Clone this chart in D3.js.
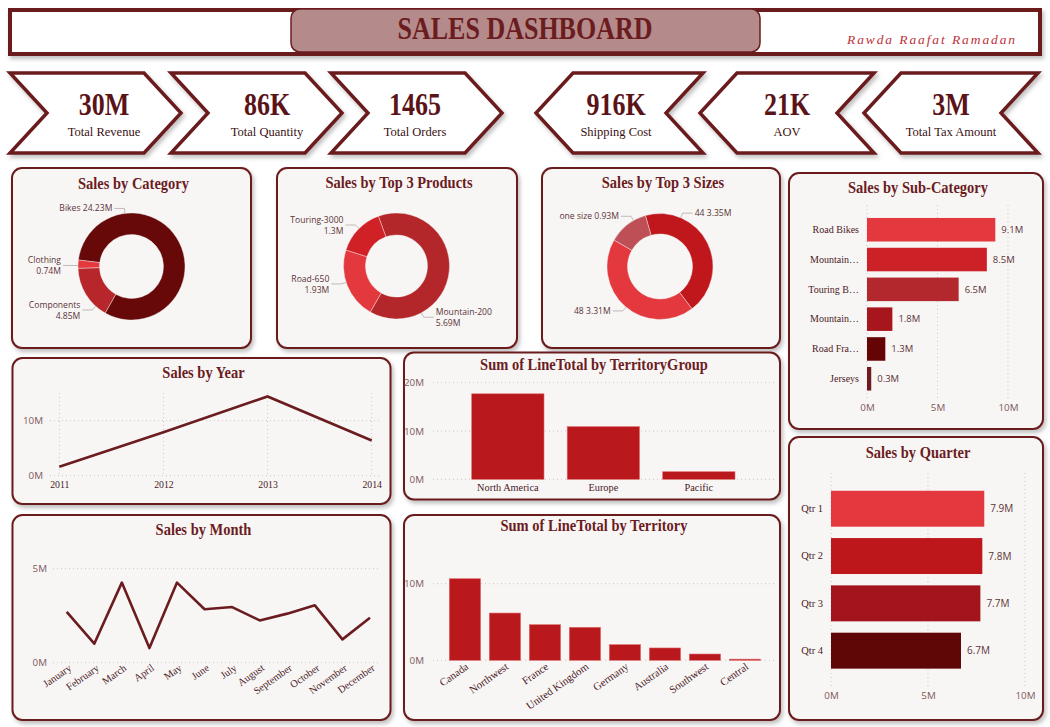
<!DOCTYPE html>
<meta charset="utf-8">
<script src="https://d3js.org/d3.v7.min.js"></script>
<style>
  body { margin: 0; background: #fff; }
  text { font-family: "Liberation Serif", "Times New Roman", serif; }
  .sans { font-family: "Segoe UI", "Open Sans", "Noto Sans", sans-serif; }
</style>
<div id="dash"></div>
<script>

// ---- data (values in millions unless noted) ----
var kpiValues = ["30M", "86K", "1465", "916K", "21K", "3M"];
var kpiLabels = ["Total Revenue", "Total Quantity", "Total Orders", "Shipping Cost", "AOV", "Total Tax Amount"];

var categoryNames = ["Bikes", "Components", "Clothing"];
var categorySales = [24.23, 4.85, 0.74];

var productNames = ["Mountain-200", "Road-650", "Touring-3000"];
var productSales = [5.69, 1.93, 1.3];

var sizeNames = ["44", "48", "one size"];
var sizeSales = [3.35, 3.31, 0.93];

var subCategories = ["Road Bikes", "Mountain Bikes", "Touring Bikes", "Mountain Frames", "Road Frames", "Jerseys"];
var subCategorySales = [9.1, 8.5, 6.5, 1.8, 1.3, 0.3];

var years = ["2011", "2012", "2013", "2014"];
var yearSales = [1.64, 7.9, 14.4, 6.4];

var territoryGroups = ["North America", "Europe", "Pacific"];
var territoryGroupSales = [17.7, 10.9, 1.57];

var months = ["January", "February", "March", "April", "May", "June", "July",
              "August", "September", "October", "November", "December"];
var monthSales = [2.70, 1.01, 4.26, 0.78, 4.26, 2.84, 2.96, 2.25, 2.61, 3.05, 1.24, 2.39];

var territories = ["Canada", "Northwest", "France", "United Kingdom", "Germany", "Australia", "Southwest", "Central"];
var territorySales = [10.65, 6.17, 4.65, 4.31, 2.04, 1.61, 0.82, 0.15];

var quarters = ["Qtr 1", "Qtr 2", "Qtr 3", "Qtr 4"];
var quarterSales = [7.9, 7.8, 7.7, 6.7];

// ---- page ----
var dark = "#6b1c1f",
    panelFill = "#f8f6f5",
    tickColor = "#7d5a5c",
    labelColor = "#4a1a1f";

var svg = d3.select("#dash").append("svg")
    .attr("width", 1050)
    .attr("height", 727);

var shadow = svg.append("defs").append("filter")
    .attr("id", "shadow")
    .attr("x", "-5%").attr("y", "-10%")
    .attr("width", "115%").attr("height", "130%");
shadow.append("feDropShadow")
    .attr("dx", 2).attr("dy", 3)
    .attr("stdDeviation", 2)
    .attr("flood-color", "#000")
    .attr("flood-opacity", 0.25);

// serif text stretched a bit vertically, like the original export
function tallText(x, y, txt, size, weight, color) {
  return svg.append("text")
      .attr("transform", "translate(" + x + "," + y + ") scale(1,1.18)")
      .attr("text-anchor", "middle")
      .attr("font-size", size)
      .attr("font-weight", weight)
      .attr("fill", color)
      .text(txt);
}

function panel(x, y, w, h, title, ty) {
  svg.append("rect")
      .attr("x", x).attr("y", y)
      .attr("width", w).attr("height", h)
      .attr("rx", 10)
      .attr("fill", panelFill)
      .attr("stroke", dark)
      .attr("stroke-width", 2)
      .attr("filter", "url(#shadow)");
  tallText(x + w / 2 + 2, y + ty, title, 14.5, "bold", dark);
}

// ---- header ----
svg.append("rect")
    .attr("x", 10).attr("y", 10)
    .attr("width", 1030).attr("height", 44)
    .attr("fill", "#fff")
    .attr("stroke", dark)
    .attr("stroke-width", 4)
    .attr("filter", "url(#shadow)");
svg.append("rect")
    .attr("x", 291).attr("y", 9)
    .attr("width", 469).attr("height", 43)
    .attr("rx", 9)
    .attr("fill", "#b58a8a")
    .attr("stroke", dark)
    .attr("stroke-width", 1.5);
tallText(525, 39, "SALES DASHBOARD", 26, "bold", dark);
svg.append("text")
    .attr("x", 1017).attr("y", 44)
    .attr("text-anchor", "end")
    .attr("font-size", 13.5)
    .attr("font-style", "italic")
    .attr("letter-spacing", 1.9)
    .attr("fill", "#c0303a")
    .text("Rawda Raafat Ramadan");

// ---- KPI chevrons ----
var chevrons = [
  {left: 10,  right: 144,  dir: 1,  cx: 104},
  {left: 171, right: 305,  dir: 1,  cx: 267},
  {left: 331, right: 465,  dir: 1,  cx: 415},
  {left: 573, right: 703,  dir: -1, cx: 616},
  {left: 737, right: 874,  dir: -1, cx: 787},
  {left: 901, right: 1038, dir: -1, cx: 951}
];
var chevTop = 73, chevBot = 153, chevMid = 113, chevDepth = 37;

chevrons.forEach(function(c, i) {
  var pts;
  if (c.dir > 0) {
    pts = [[c.left, chevTop], [c.right, chevTop], [c.right + chevDepth, chevMid],
           [c.right, chevBot], [c.left, chevBot], [c.left + chevDepth, chevMid]];
  } else {
    pts = [[c.left, chevTop], [c.right, chevTop], [c.right - chevDepth, chevMid],
           [c.right, chevBot], [c.left, chevBot], [c.left - chevDepth, chevMid]];
  }
  svg.append("polygon")
      .attr("points", pts.join(" "))
      .attr("fill", "#fff")
      .attr("stroke", dark)
      .attr("stroke-width", 3.5)
      .attr("filter", "url(#shadow)");
  tallText(c.cx, 115, kpiValues[i], 26, "bold", "#5a1418");
  svg.append("text")
      .attr("x", c.cx).attr("y", 135.5)
      .attr("text-anchor", "middle")
      .attr("font-size", 12.5)
      .attr("fill", "#3a1012")
      .text(kpiLabels[i]);
});

// ---- donut charts ----
var fmt2 = d3.format(".2~f"),
    fmt1 = d3.format(".1f");

function donut(cx, cy, R, r, names, values, colors, startDeg, labelDegs, twoLine) {
  var g = svg.append("g").attr("transform", "translate(" + cx + "," + cy + ")");
  var pie = d3.pie().sort(null)
      .startAngle(startDeg * Math.PI / 180)
      .endAngle((startDeg + 360) * Math.PI / 180);
  var arc = d3.arc().innerRadius(r).outerRadius(R);
  var arcs = pie(values);

  g.selectAll("path")
    .data(arcs)
    .enter().append("path")
      .attr("d", arc)
      .attr("fill", function(d, i) { return colors[i]; })
      .attr("stroke", panelFill)
      .attr("stroke-width", 0.4);

  arcs.forEach(function(d, i) {
    var a = labelDegs[i] * Math.PI / 180,
        s = Math.sin(a), c = -Math.cos(a),
        side = s < 0 ? -1 : 1;
    var p1 = [R * s, R * c],
        p2 = [(R + 5) * s, (R + 5) * c],
        p3 = [p2[0] + side * 10, p2[1]];
    g.append("polyline")
        .attr("points", [p1, p2, p3].join(" "))
        .attr("fill", "none")
        .attr("stroke", "#b3a9a9")
        .attr("stroke-width", 0.8);
    var t = g.append("text")
        .attr("class", "sans")
        .attr("font-size", 8.6)
        .attr("fill", "#5b3436")
        .attr("text-anchor", side < 0 ? "end" : "start");
    var tx = p3[0] + side * 2;
    if (twoLine[i]) {
      t.append("tspan").attr("x", tx).attr("y", p3[1] - 2.3).text(names[i]);
      t.append("tspan").attr("x", tx).attr("y", p3[1] + 8.7).text(fmt2(values[i]) + "M");
    } else {
      t.attr("x", tx).attr("y", p3[1] + 3).text(names[i] + " " + fmt2(values[i]) + "M");
    }
  });
}

panel(12, 168, 239, 180, "Sales by Category", 20.5);
donut(131.5, 266.5, 53.5, 32, categoryNames, categorySales,
      ["#670909", "#b7262a", "#e4383e"], 277, [353, 222, 271], [false, true, true]);

panel(277, 168, 240, 180, "Sales by Top 3 Products", 19.5);
donut(396.5, 266, 53, 31, productNames, productSales,
      ["#b3272a", "#e3393e", "#d02226"], 340, [152, 252, 315], [true, true, true]);

panel(542, 168, 238, 180, "Sales by Top 3 Sizes", 19.5);
donut(660, 266.5, 53, 32.5, sizeNames, sizeSales,
      ["#c0171d", "#e3393e", "#be4f56"], 344, [23, 220, 330], [false, false, false]);

// ---- helpers for the cartesian charts ----
function hGrid(scale, ticks, x0, x1) {
  svg.append("g").selectAll("line")
    .data(ticks)
    .enter().append("line")
      .attr("x1", x0).attr("x2", x1)
      .attr("y1", function(d) { return scale(d); })
      .attr("y2", function(d) { return scale(d); })
      .attr("stroke", "#cdc4c4")
      .attr("stroke-dasharray", "1,3");
}
function vGrid(positions, y0, y1) {
  svg.append("g").selectAll("line")
    .data(positions)
    .enter().append("line")
      .attr("x1", function(d) { return d; }).attr("x2", function(d) { return d; })
      .attr("y1", y0).attr("y2", y1)
      .attr("stroke", "#cdc4c4")
      .attr("stroke-dasharray", "1,3");
}
function styleAxis(g, cls, size, color) {
  g.select(".domain").remove();
  g.selectAll("text")
      .attr("class", cls)
      .attr("font-size", size)
      .attr("fill", color)
      .style("font-family", cls === "sans" ? null : "Liberation Serif, Times New Roman, serif");
}
function yValueAxis(scale, ticks, xRight) {
  var g = svg.append("g")
      .attr("transform", "translate(" + xRight + ",0)")
      .call(d3.axisLeft(scale).tickValues(ticks).tickSize(0).tickPadding(0)
            .tickFormat(function(d) { return d + "M"; }));
  styleAxis(g, "sans", 9.8, tickColor);
}
function truncate(sel, maxW) {
  sel.each(function() {
    var t = d3.select(this), full = t.text();
    if (this.getComputedTextLength() <= maxW) return;
    var n = full.length;
    while (n > 1) {
      n--;
      t.text(full.slice(0, n).replace(/\s+$/, "") + "\u2026");
      if (this.getComputedTextLength() <= maxW) break;
    }
  });
}

// ---- Sales by Sub-Category (horizontal bars) ----
panel(789, 173, 254, 256, "Sales by Sub-Category", 19.5);
var xSub = d3.scaleLinear().domain([0, 10]).range([867, 1008]);
var ySub = d3.scaleBand().domain(subCategories).range([211.7, 396.8]).padding(0.21);
var subColors = ["#e3383e", "#cc2127", "#b3282c", "#a8161d", "#650404", "#6e1a1e"];

vGrid([0, 5, 10].map(xSub), 205, 398);
svg.append("g").selectAll("rect")
  .data(subCategories)
  .enter().append("rect")
    .attr("x", xSub(0))
    .attr("y", function(d) { return ySub(d); })
    .attr("width", function(d, i) { return xSub(subCategorySales[i]) - xSub(0); })
    .attr("height", ySub.bandwidth())
    .attr("fill", function(d, i) { return subColors[i]; });
svg.append("g").selectAll("text")
  .data(subCategories)
  .enter().append("text")
    .attr("class", "sans")
    .attr("x", function(d, i) { return xSub(subCategorySales[i]) + 6; })
    .attr("y", function(d) { return ySub(d) + ySub.bandwidth() / 2; })
    .attr("dy", "0.35em")
    .attr("font-size", 9.5)
    .attr("fill", "#5b3436")
    .text(function(d, i) { return fmt1(subCategorySales[i]) + "M"; });
var subAxis = svg.append("g")
    .attr("transform", "translate(859,0)")
    .call(d3.axisLeft(ySub).tickSize(0).tickPadding(0));
styleAxis(subAxis, "serif", 10, labelColor);
truncate(subAxis.selectAll("text"), 52);
var subX = svg.append("g")
    .attr("transform", "translate(0,404)")
    .call(d3.axisBottom(xSub).tickValues([0, 5, 10]).tickSize(0).tickPadding(0)
          .tickFormat(function(d) { return d + "M"; }));
styleAxis(subX, "sans", 9.8, tickColor);

// ---- Sales by Quarter (horizontal bars) ----
panel(789, 437, 254, 283, "Sales by Quarter", 20.5);
var xQ = d3.scaleLinear().domain([0, 10]).range([831, 1025]);
var yQ = d3.scaleBand().domain(quarters).range([479.4, 680]).padding(0.24);
var qColors = ["#e3383e", "#bd171c", "#a3141c", "#5f0606"];

vGrid([0, 5, 10].map(xQ), 473, 686);
svg.append("g").selectAll("rect")
  .data(quarters)
  .enter().append("rect")
    .attr("x", xQ(0))
    .attr("y", function(d) { return yQ(d); })
    .attr("width", function(d, i) { return xQ(quarterSales[i]) - xQ(0); })
    .attr("height", yQ.bandwidth())
    .attr("fill", function(d, i) { return qColors[i]; });
svg.append("g").selectAll("text")
  .data(quarters)
  .enter().append("text")
    .attr("class", "sans")
    .attr("x", function(d, i) { return xQ(quarterSales[i]) + 6; })
    .attr("y", function(d) { return yQ(d) + yQ.bandwidth() / 2; })
    .attr("dy", "0.35em")
    .attr("font-size", 10)
    .attr("fill", "#5b3436")
    .text(function(d, i) { return fmt1(quarterSales[i]) + "M"; });
var qAxis = svg.append("g")
    .attr("transform", "translate(823,0)")
    .call(d3.axisLeft(yQ).tickSize(0).tickPadding(0));
styleAxis(qAxis, "serif", 10.5, labelColor);
var qX = svg.append("g")
    .attr("transform", "translate(0,692)")
    .call(d3.axisBottom(xQ).tickValues([0, 5, 10]).tickSize(0).tickPadding(0)
          .tickFormat(function(d) { return d + "M"; }));
styleAxis(qX, "sans", 9.8, tickColor);

// ---- Sales by Year (line) ----
panel(12.5, 358, 378, 146, "Sales by Year", 19.5);
var xYear = d3.scalePoint().domain(years).range([59.3, 371.7]);
var yYear = d3.scaleLinear().domain([0, 15]).range([475.7, 393.2]);

hGrid(yYear, [0, 10], 50, 380);
vGrid(years.map(function(d) { return xYear(d); }), 393, 476);
svg.append("path")
    .datum(years)
    .attr("fill", "none")
    .attr("stroke", dark)
    .attr("stroke-width", 2.6)
    .attr("d", d3.line()
        .x(function(d) { return xYear(d); })
        .y(function(d, i) { return yYear(yearSales[i]); }));
yValueAxis(yYear, [0, 10], 43);
var yearX = svg.append("g")
    .attr("transform", "translate(0,481)")
    .call(d3.axisBottom(xYear).tickSize(0).tickPadding(0));
styleAxis(yearX, "serif", 9.8, labelColor);

// ---- Sum of LineTotal by TerritoryGroup ----
panel(404, 352.5, 376, 147, "Sum of LineTotal by TerritoryGroup", 17.5);
var xTG = d3.scaleBand().domain(territoryGroups).range([448.5, 758.2]).padding(0.243);
var yTG = d3.scaleLinear().domain([0, 20]).range([479.3, 382.7]);

hGrid(yTG, [0, 10, 20], 433, 777);
svg.append("g").selectAll("rect")
  .data(territoryGroups)
  .enter().append("rect")
    .attr("x", function(d) { return xTG(d); })
    .attr("y", function(d, i) { return yTG(territoryGroupSales[i]); })
    .attr("width", xTG.bandwidth())
    .attr("height", function(d, i) { return yTG(0) - yTG(territoryGroupSales[i]); })
    .attr("fill", "#b9181d")
    .attr("stroke", "#e06a6a")
    .attr("stroke-width", 0.6);
yValueAxis(yTG, [0, 10, 20], 424);
var tgX = svg.append("g")
    .attr("transform", "translate(0,484)")
    .call(d3.axisBottom(xTG).tickSize(0).tickPadding(0));
styleAxis(tgX, "serif", 10.3, labelColor);

// ---- Sales by Month (line) ----
panel(12.5, 515, 378, 205, "Sales by Month", 19.5);
var xMonth = d3.scalePoint().domain(months).range([66.7, 370]);
var yMonth = d3.scaleLinear().domain([0, 5]).range([662.7, 568.7]);

hGrid(yMonth, [0, 5], 53, 380);
svg.append("path")
    .datum(months)
    .attr("fill", "none")
    .attr("stroke", dark)
    .attr("stroke-width", 2.6)
    .attr("stroke-linejoin", "round")
    .attr("d", d3.line()
        .x(function(d) { return xMonth(d); })
        .y(function(d, i) { return yMonth(monthSales[i]); }));
yValueAxis(yMonth, [0, 5], 47);
var monthX = svg.append("g")
    .attr("transform", "translate(0,666)")
    .call(d3.axisBottom(xMonth).tickSize(0).tickPadding(0));
styleAxis(monthX, "serif", 10.3, labelColor);
monthX.selectAll("text")
    .attr("text-anchor", "end")
    .attr("dx", "0.2em")
    .attr("dy", "0.55em")
    .attr("y", 0)
    .attr("transform", "rotate(-35)");

// ---- Sum of LineTotal by Territory ----
panel(404, 515, 376, 205, "Sum of LineTotal by Territory", 15.5);
var xTer = d3.scaleBand().domain(territories).range([440.6, 769.3]).padding(0.2175);
var yTer = d3.scaleLinear().domain([0, 10]).range([660.3, 583.7]);

hGrid(yTer, [0, 10], 433, 777);
svg.append("g").selectAll("rect")
  .data(territories)
  .enter().append("rect")
    .attr("x", function(d) { return xTer(d); })
    .attr("y", function(d, i) { return yTer(territorySales[i]); })
    .attr("width", xTer.bandwidth())
    .attr("height", function(d, i) { return yTer(0) - yTer(territorySales[i]); })
    .attr("fill", "#b9181d")
    .attr("stroke", "#e06a6a")
    .attr("stroke-width", 0.6);
yValueAxis(yTer, [0, 10], 424);
var terX = svg.append("g")
    .attr("transform", "translate(0,664)")
    .call(d3.axisBottom(xTer).tickSize(0).tickPadding(0));
styleAxis(terX, "serif", 10.8, labelColor);
terX.selectAll("text")
    .attr("text-anchor", "end")
    .attr("dx", "0.1em")
    .attr("dy", "0.55em")
    .attr("y", 0)
    .attr("transform", "rotate(-35)");

</script>
